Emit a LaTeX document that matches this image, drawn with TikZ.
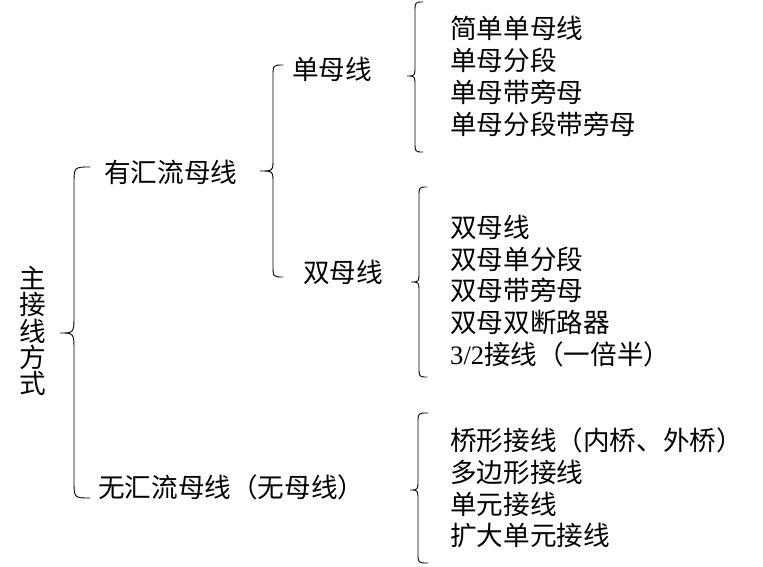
\documentclass[tikz,border=0pt]{standalone}
\usepackage{fontspec}
\setmainfont{Liberation Serif}
\newfontfamily\cjk{Noto Sans CJK SC}
\tikzset{
  br/.style={line width=0.9pt, line cap=round},
  lbl/.style={font=\cjk\fontsize{26.6}{31.8}\selectfont, inner sep=0pt, anchor=west, align=left},
}
% #1 x of vertical, #2 x of ends, #3 x of tip, #4 y top, #5 y mid, #6 y bottom, #7 curl size
\newcommand\mybrace[7]{%
  \draw[br] (#2,#4) .. controls (#1,#4) .. (#1,#4+#7) -- (#1,#5-#7)
    .. controls (#1,#5) .. (#3,#5) .. controls (#1,#5) .. (#1,#5+#7)
    -- (#1,#6-#7) .. controls (#1,#6) .. (#2,#6);}
\begin{document}
\begin{tikzpicture}[x=1pt,y=-1pt]
\useasboundingbox (0,0) rectangle (763,567);
\node[font=\cjk\fontsize{26.6}{26.4}\selectfont, inner sep=0pt, align=center] (root) at (33,331) {主\\接\\线\\方\\式};
\node[lbl] (n1) at (104,172) {有汇流母线};
\node[lbl] (n2) at (98,487) {无汇流母线（无母线）};
\node[lbl] (n11) at (292,69) {单母线};
\node[lbl] (n12) at (303,272) {双母线};
\node[lbl] (l1) at (450,76.5) {简单单母线\\单母分段\\单母带旁母\\单母分段带旁母};
\node[lbl] (l2) at (450,291) {双母线\\双母单分段\\双母带旁母\\双母双断路器\\{\rmfamily 3/2}接线（一倍半）};
\node[lbl] (l3) at (450,488) {桥形接线（内桥、外桥）\\多边形接线\\单元接线\\扩大单元接线};
\mybrace{74}{90}{60}{167}{333}{498}{18}
\mybrace{273}{283}{260}{65}{171}{277}{12}
\mybrace{415}{423}{407}{2}{76}{152}{10}
\mybrace{419}{427}{411}{187}{282}{377}{10}
\mybrace{418}{428}{410}{413}{490}{563}{10}
\end{tikzpicture}
\end{document}
